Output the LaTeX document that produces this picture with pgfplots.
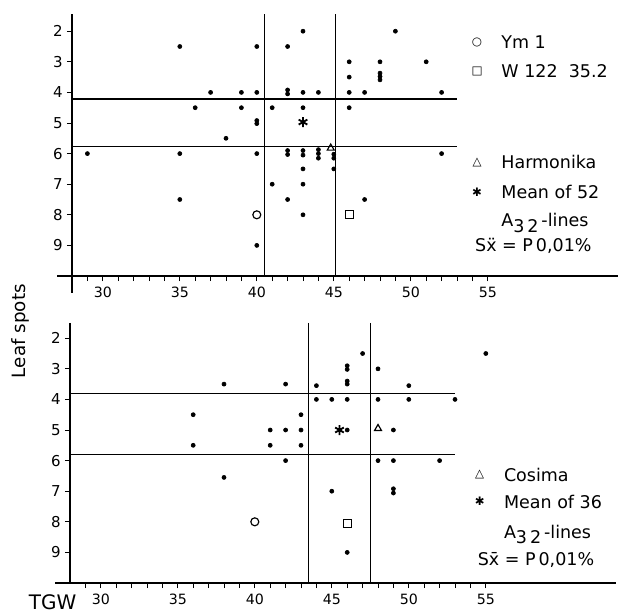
\documentclass[border=0pt]{standalone}
\usepackage{fontspec}
\setmainfont{DejaVu Sans}
\usepackage{pgfplots}
\pgfplotsset{compat=1.18}

\pgfplotsset{
  panel/.style={
    x=9.24pt, y=18.36pt,
    xmin=28, xmax=63.45, ymax=10,
    y dir=reverse,
    axis lines=left,
    axis line style={-, line width=0.8pt},
    tick align=outside,
    major tick length=3pt, minor tick length=3pt,
    xtick={30,35,...,55}, minor xtick={29,...,55},
    ytick={2,...,9},
    tick style={black, line width=0.6pt},
    /pgf/number format/assume math mode=true,
    xticklabel style={font=\fontsize{8.5}{9}\selectfont},
    yticklabel style={font=\fontsize{9}{10}\selectfont, xshift=1pt},
    clip=false,
  },
  dot/.style={only marks, mark=*, mark size=1.2pt, black},
  special/.style={only marks, black, mark size=2.4pt, mark options={line width=0.7pt}},
  meanmark/.style={only marks, black, mark=asterisk, mark size=3pt, mark options={line width=1.1pt}},
  refline/.style={black, line width=0.8pt},
}
\tikzset{
  leg/.style={anchor=west, font=\fontsize{10.5}{12}\selectfont},
  sym/.style={font=\fontsize{7}{8}\selectfont},
}

\begin{document}
\begin{tikzpicture}

% ---- obere Grafik
\begin{axis}[panel, ymin=1.45, at={(0,0)}, anchor=south west]
\addplot[dot] coordinates {
  (35,2.5) (40,2.5) (42,2.5) (43,2) (49,2) (46,3) (48,3) (51,3) (46,3.5)
  (48,3.37) (48,3.48) (48,3.59)
  (37,4) (39,4) (40,4) (42,3.92) (42,4.05) (43,4) (44,4) (46,4) (47,4) (52,4)
  (36,4.5) (39,4.5) (41,4.5) (43,4.5) (46,4.5)
  (40,4.92) (40,5.02) (38,5.5)
  (29,6) (35,6) (40,6) (42,5.9) (42,6.03) (43,5.9) (43,6.05)
  (44,5.87) (44,6.0) (44,6.15) (45,6.02) (45,6.15) (52,6)
  (43,6.5) (45,6.5) (41,7) (43,7)
  (35,7.5) (42,7.5) (47,7.5) (43,8) (40,9)
};
\addplot[special, mark=o] coordinates {(40,8)};
\addplot[special, mark=square] coordinates {(46,8)};
\addplot[special, mark=triangle] coordinates {(44.8,5.82)};
\addplot[meanmark] coordinates {(43,4.97)};

\addplot[refline] coordinates {(28,4.22) (53,4.22)};
\addplot[refline] coordinates {(28,5.76) (53,5.76)};
\addplot[refline] coordinates {(40.5,1.45) (40.5,10)};
\addplot[refline] coordinates {(45.1,1.45) (45.1,10)};

\draw[line width=0.8pt] (axis cs:28,10) -- ([xshift=-9pt]axis cs:28,10);
\draw[line width=0.8pt] (axis cs:28,10) -- ([yshift=-10pt]axis cs:28,10);

\node[sym] at (axis cs:54.3,2.36) {○};
\node[leg] at (axis cs:55.5,2.36) {Ym 1};
\node[sym] at (axis cs:54.3,3.3) {□};
\node[leg] at (axis cs:55.5,3.3) {W 122\ \ 35.2};
\node[sym] at (axis cs:54.3,6.28) {△};
\node[leg] at (axis cs:55.5,6.28) {Harmonika};
\node[sym] at (axis cs:54.3,7.26) {✱};
\node[leg] at (axis cs:55.5,7.26) {Mean of\ 52};
\node[leg] at (axis cs:55.5,8.27) {A\raisebox{-0.55ex}{3\,2}\,-lines};
\node[leg] at (axis cs:53.8,9.0) {S\"x = P\,0,01\%};
\end{axis}

% ---- untere Grafik
\begin{axis}[panel, ymin=1.5, at={(-1.2pt,-184.2pt)}, anchor=south west]
\addplot[dot] coordinates {
  (47,2.5) (55,2.5)
  (46,2.9) (46,3.02) (48,3) (46,3.4) (46,3.5)
  (38,3.5) (42,3.5) (44,3.55) (50,3.55)
  (44,4) (45,4) (46,4) (48,4) (50,4) (53,4)
  (36,4.5) (43,4.5)
  (41,5) (42,5) (43,5) (46,5) (49,5)
  (36,5.5) (41,5.5) (43,5.5)
  (42,6) (48,6) (49,6) (52,6)
  (38,6.55) (45,7) (49,6.92) (49,7.06) (46,9)
};
\addplot[special, mark=o] coordinates {(40,8)};
\addplot[special, mark=square] coordinates {(46,8.05)};
\addplot[special, mark=triangle] coordinates {(48,4.95)};
\addplot[meanmark] coordinates {(45.5,5)};

\addplot[refline] coordinates {(28,3.8) (53,3.8)};
\addplot[refline] coordinates {(28,5.8) (53,5.8)};
\addplot[refline] coordinates {(43.5,1.5) (43.5,10)};
\addplot[refline] coordinates {(47.5,1.5) (47.5,10)};

\draw[line width=0.8pt] (axis cs:28,10) -- ([xshift=-9pt]axis cs:28,10);

\node[sym] at (axis cs:54.6,6.46) {△};
\node[leg] at (axis cs:55.8,6.46) {Cosima};
\node[sym] at (axis cs:54.6,7.34) {✱};
\node[leg] at (axis cs:55.8,7.34) {Mean of\ 36};
\node[leg] at (axis cs:55.8,8.42) {A\raisebox{-0.55ex}{3\,2}\,-lines};
\node[leg] at (axis cs:54.1,9.26) {S\=x = P\,0,01\%};

\node[rotate=90, font=\fontsize{11}{12}\selectfont] at (axis cs:24.8,1.77) {Leaf spots};
\node[font=\fontsize{12}{14}\selectfont, inner sep=1pt] at (axis cs:26.87,10.62) {TGW};
\end{axis}

\pgfresetboundingbox
\useasboundingbox (-43.2pt,-202.8pt) rectangle (327.6pt,165.6pt);
\end{tikzpicture}
\end{document}
